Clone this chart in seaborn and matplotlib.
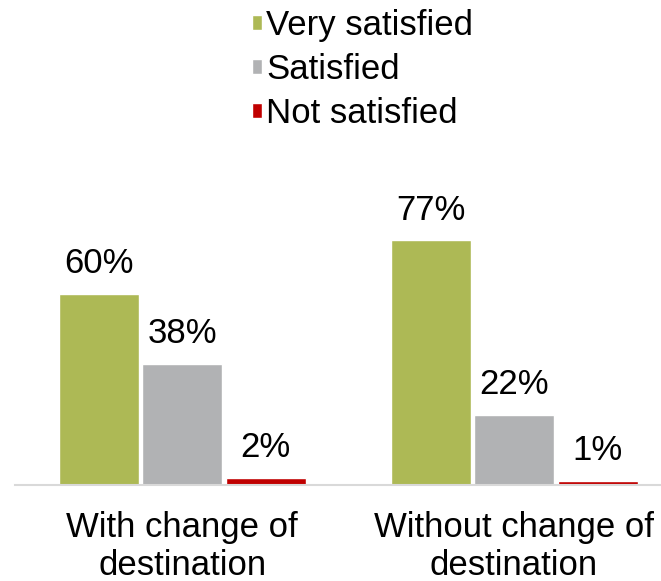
import matplotlib
matplotlib.use("Agg")
import matplotlib.pyplot as plt
import seaborn as sns
import pandas as pd

categories = ["With change of\ndestination", "Without change of\ndestination"]
series = ["Very satisfied", "Satisfied", "Not satisfied"]
very_satisfied = [60, 77]
satisfied = [38, 22]
not_satisfied = [2, 1]
colors = ["#adb955", "#b1b2b4", "#c00000"]

rows = []
for name, vals in zip(series, [very_satisfied, satisfied, not_satisfied]):
    for c, v in zip(categories, vals):
        rows.append({"category": c, "series": name, "value": v})
df = pd.DataFrame(rows)

sns.set_theme(style="white")
plt.rcParams["font.family"] = ["Liberation Sans", "DejaVu Sans"]
plt.rcParams["text.color"] = "black"

FS = 25
fig = plt.figure(figsize=(6.61, 5.81), dpi=100)
ax = fig.add_axes([15 / 661, 96.5 / 581, 646 / 661, 317 / 581])

sns.barplot(data=df, x="category", y="value", hue="series", order=categories,
            hue_order=series, palette=colors, width=0.755, gap=0.042,
            saturation=1, ax=ax, legend=True)

for cont in ax.containers:
    labels = [f"{int(round(b.get_height()))}%" for b in cont]
    ax.bar_label(cont, labels=labels, padding=10, fontsize=FS, color="black")

ax.set_ylim(0, 100)
ax.set_xlim(-0.504, 1.443)
ax.set_xlabel("")
ax.set_ylabel("")
ax.set_yticks([])
for s in ["top", "right", "left"]:
    ax.spines[s].set_visible(False)
ax.spines["bottom"].set_color("#d9d9d9")
ax.spines["bottom"].set_linewidth(1.5)
ax.tick_params(axis="x", length=0, labelsize=FS, pad=19, colors="black")
for t in ax.get_xticklabels():
    t.set_linespacing(1.2)

handles, labels = ax.get_legend_handles_labels()
ax.legend_.remove()
fig.legend(handles, labels, loc="upper left", bbox_to_anchor=(238 / 661, 1.008),
           frameon=False, fontsize=FS, handlelength=0.3, handleheight=0.3,
           handletextpad=0.12, labelspacing=0.31, borderaxespad=0.0,
           labelcolor="black")

fig.savefig("out.png", dpi=100)
